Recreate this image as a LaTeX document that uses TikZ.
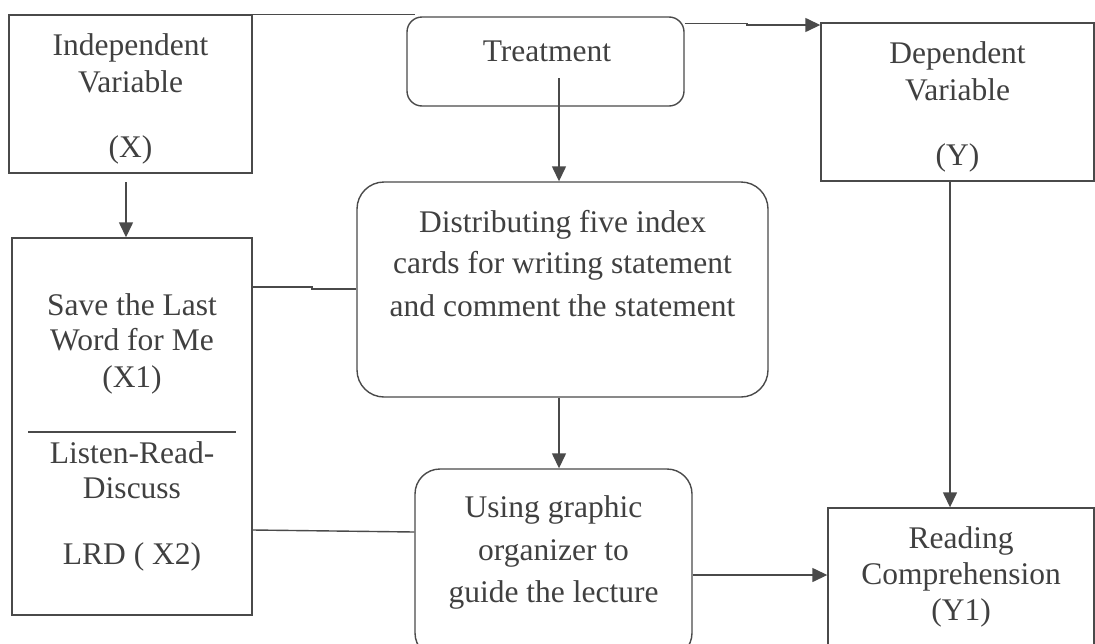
\documentclass[tikz,border=0pt]{standalone}
\usepackage{fontspec}
\setmainfont{Liberation Serif}
\usetikzlibrary{arrows.meta}
\definecolor{linegray}{HTML}{4A4A4A}
\definecolor{textgray}{HTML}{404040}
\tikzset{
  box/.style={draw=linegray, line width=1.4pt, inner sep=0pt, fill=none},
  rbox/.style={box, rounded corners=#1},
  txt/.style={anchor=base, inner sep=0pt, text=textgray, font=\fontsize{31.5}{37}\selectfont},
  conn/.style={draw=linegray, line width=1.4pt},
  arr/.style={conn, -{Triangle[length=15pt,width=14pt]}}
}
\begin{document}
\begin{tikzpicture}[x=1pt,y=-1pt]
\useasboundingbox (0,0) rectangle (1095,643);
\clip (0,0) rectangle (1095,643);
% boxes
\node[box, minimum width=243pt, minimum height=158pt] (indep) at (130.5,94) {};
\node[rbox=15pt, minimum width=277pt, minimum height=89pt] (treat) at (545.5,61.5) {};
\node[box, minimum width=273pt, minimum height=158pt] (dep) at (957.5,102) {};
\node[box, minimum width=240pt, minimum height=377pt] (save) at (132,426.5) {};
\node[rbox=27pt, minimum width=411pt, minimum height=215pt] (dist) at (562.5,289.5) {};
\node[rbox=25pt, minimum width=277pt, minimum height=189pt] (using) at (553.5,563.5) {};
\node[box, minimum width=266pt, minimum height=172pt] (read) at (961,594) {};
% heading rule and divider
\coordinate (h1) at (233,14.5);
\coordinate (h2) at (415,14.5);
\draw[conn, line width=1pt] (h1) -- (h2);
\coordinate (d1) at (28,432);
\coordinate (d2) at (236,432);
\draw[conn] (d1) -- (d2);
% texts
\node[txt] (i1) at (130.5,55) {Independent};
\node[txt] (i2) at (130.5,92) {Variable};
\node[txt] (i3) at (130.5,157) {(X)};
\node[txt] (t1) at (547,61) {Treatment};
\node[txt] (y1) at (957.5,63) {Dependent};
\node[txt] (y2) at (957.5,100) {Variable};
\node[txt] (y3) at (957.5,165) {(Y)};
\node[txt] (s1) at (132,315) {Save the Last};
\node[txt] (s2) at (132,350) {Word for Me};
\node[txt] (s3) at (132,387) {(X1)};
\node[txt] (s4) at (132,463) {Listen-Read-};
\node[txt] (s5) at (132,498) {Discuss};
\node[txt] (s6) at (132,564) {LRD ( X2)};
\node[txt] (ds1) at (562.5,232) {Distributing five index};
\node[txt] (ds2) at (562.5,273) {cards for writing statement};
\node[txt] (ds3) at (562.5,316) {and comment the statement};
\node[txt] (u1) at (553.5,517) {Using graphic};
\node[txt] (u2) at (553.5,560) {organizer to};
\node[txt] (u3) at (553.5,602) {guide the lecture};
\node[txt] (r1) at (961,548) {Reading};
\node[txt] (r2) at (961,584) {Comprehension};
\node[txt] (r3) at (961,620) {(Y1)};
% connectors
\coordinate (a1) at (126,182);
\draw[arr] (a1) -- (a1 |- save.north);
\coordinate (a2) at (559,78);
\draw[arr] (a2) -- (a2 |- dist.north);
\coordinate (a3) at (684,23.3);
\coordinate (a3b) at (747,23.3);
\coordinate (a3c) at (747,25);
\draw[arr] (treat.east |- a3) -- (a3b) -- (a3c) -- (a3c -| dep.west);
\coordinate (a4) at (950,181);
\draw[arr] (a4 |- dep.south) -- (a4 |- read.north);
\coordinate (a5) at (312,287);
\coordinate (a5b) at (312,289);
\draw[conn] (save.east |- a5) -- (a5) -- (a5b) -- (a5b -| dist.west);
\coordinate (a6) at (252,530);
\coordinate (a6b) at (415,532);
\draw[conn] (save.east |- a6) -- (using.west |- a6b);
\coordinate (a7) at (559,397);
\draw[arr] (a7 |- dist.south) -- (a7 |- using.north);
\coordinate (a8) at (692,575);
\draw[arr] (using.east |- a8) -- (read.west |- a8);
\end{tikzpicture}
\end{document}
